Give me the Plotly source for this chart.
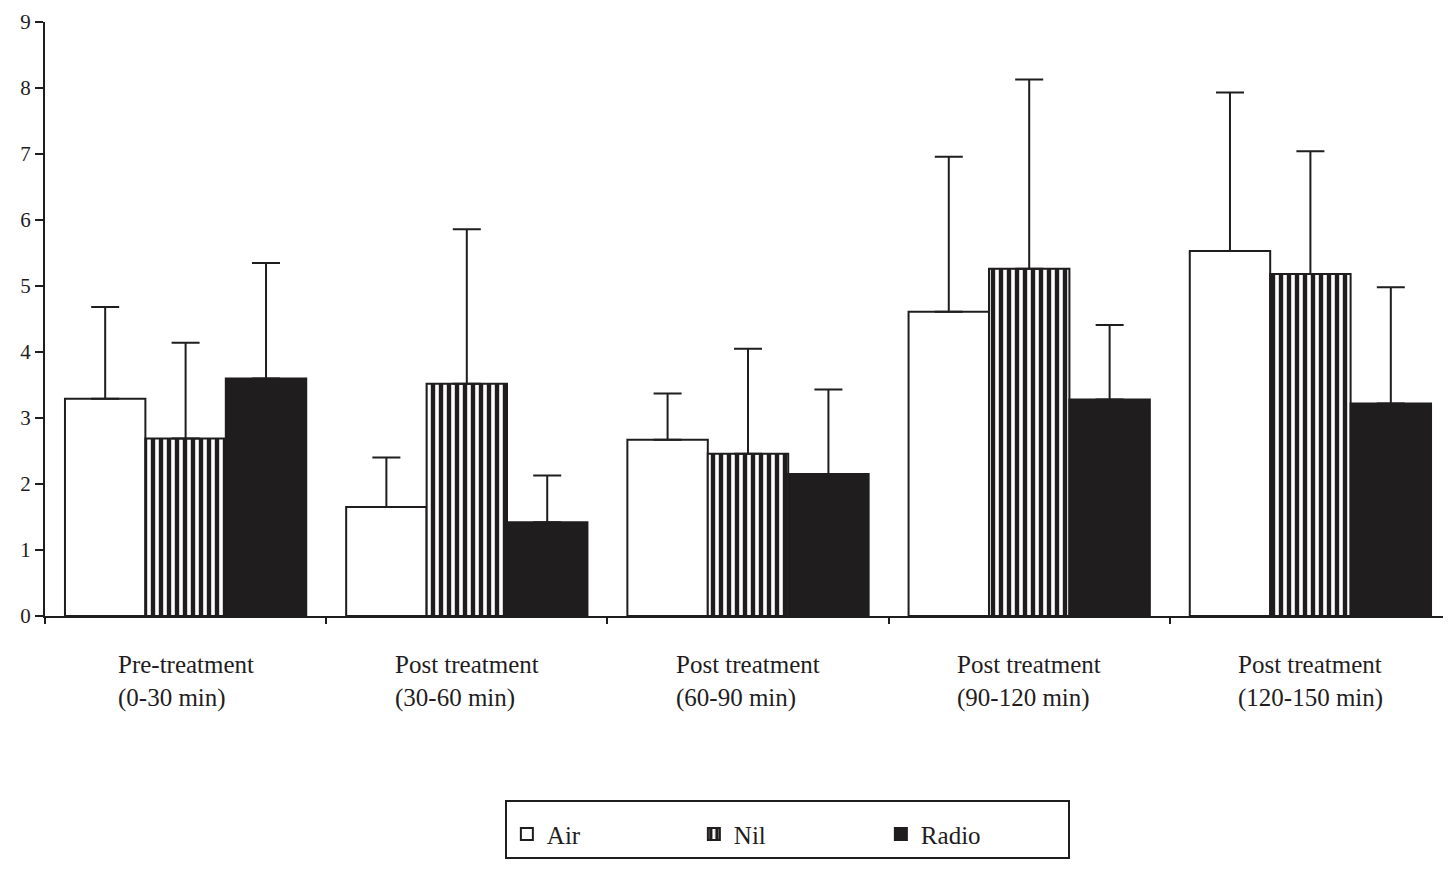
import plotly.graph_objects as go

categories = ["Pre-treatment<br>(0-30 min)", "Post treatment<br>(30-60 min)",
              "Post treatment<br>(60-90 min)", "Post treatment<br>(90-120 min)",
              "Post treatment<br>(120-150 min)"]
cat_keys = ["g1", "g2", "g3", "g4", "g5"]

air = [3.29, 1.65, 2.67, 4.61, 5.53]
air_err = [1.39, 0.75, 0.70, 2.35, 2.40]
nil = [2.69, 3.52, 2.46, 5.26, 5.18]
nil_err = [1.45, 2.34, 1.59, 2.87, 1.86]
radio = [3.60, 1.42, 2.15, 3.28, 3.22]
radio_err = [1.75, 0.71, 1.28, 1.13, 1.76]

y_ticks = [0, 1, 2, 3, 4, 5, 6, 7, 8, 9]

INK = "#1f1d1e"
FONT = "Times New Roman, Liberation Serif, serif"

def err(vals):
    return dict(type="data", symmetric=False, array=vals, arrayminus=[0] * len(vals),
                color=INK, thickness=2, width=14)

fig = go.Figure()
fig.add_trace(go.Bar(name="Air", x=cat_keys, y=air, error_y=err(air_err),
                     marker=dict(color="white", line=dict(color=INK, width=2))))
fig.add_trace(go.Bar(name="Nil", x=cat_keys, y=nil, error_y=err(nil_err),
                     marker=dict(color="white", line=dict(color=INK, width=2),
                                 pattern=dict(shape="|", fgcolor=INK, bgcolor="white",
                                              fillmode="replace", size=8, solidity=0.55))))
fig.add_trace(go.Bar(name="Radio", x=cat_keys, y=radio, error_y=err(radio_err),
                     marker=dict(color=INK, line=dict(color=INK, width=2))))

for k, lab in zip(cat_keys, categories):
    fig.add_annotation(x=k, xref="x", y=-0.055, yref="paper", text=lab,
                       showarrow=False, xanchor="center", yanchor="top", align="left",
                       font=dict(family=FONT, size=25, color=INK))

fig.update_layout(
    width=1443, height=871,
    margin=dict(l=37, r=0, t=14, b=263),
    paper_bgcolor="white", plot_bgcolor="white",
    barmode="group", bargap=0.142, bargroupgap=0,
    font=dict(family=FONT, color=INK),
    showlegend=True,
    legend=dict(orientation="h", x=0.528, xanchor="center", y=-0.31, yanchor="top",
                bordercolor=INK, borderwidth=2, bgcolor="white",
                font=dict(family=FONT, size=25, color=INK),
                title=dict(text="&nbsp;", side="top", font=dict(size=7)),
                entrywidth=142, entrywidthmode="pixels", traceorder="normal"),
)
fig.update_xaxes(type="category", showline=True, linecolor=INK, linewidth=2,
                 ticks="outside", tickson="boundaries", ticklen=6, tickcolor=INK,
                 tickwidth=2, showticklabels=False, showgrid=False, zeroline=False)
fig.update_yaxes(range=[0, 9], tickvals=y_ticks, showline=True, linecolor=INK, linewidth=2,
                 ticks="outside", ticklen=8, tickcolor=INK, tickwidth=2,
                 showgrid=False, zeroline=False,
                 tickfont=dict(family=FONT, size=21, color=INK))

fig.write_html("out.html")
